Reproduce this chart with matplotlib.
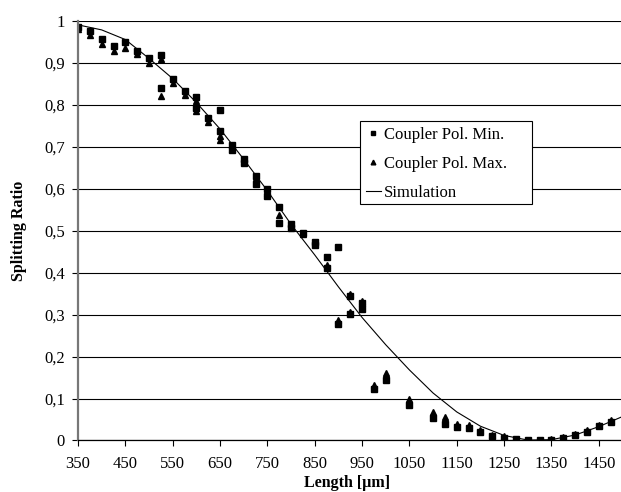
#Splitting ratio of the couplers vs. length
#measured points for both polarisations + simulated curve

import matplotlib.pyplot as plt
from matplotlib.patches import Rectangle

plt.rcParams['font.family'] = ['Liberation Serif', 'DejaVu Serif']

#measured data, Pol. Min. (squares) - some lengths were measured twice
len_min = [350, 375, 400, 425, 450, 475, 500, 525, 525, 550, 575, 600, 600, 625,
           650, 650, 675, 675, 700, 700, 725, 725, 750, 750, 775, 775, 800, 800,
           825, 850, 850, 875, 875, 900, 900, 925, 925, 950, 950, 975, 1000, 1050,
           1100, 1125, 1150, 1175, 1200, 1225, 1250, 1275, 1300, 1325, 1350, 1375,
           1400, 1425, 1450, 1475]
ratio_min = [0.985, 0.975, 0.957, 0.94, 0.949, 0.928, 0.912, 0.918, 0.84, 0.862, 0.833,
             0.818, 0.792, 0.768, 0.787, 0.736, 0.703, 0.692, 0.67, 0.662, 0.63, 0.612,
             0.598, 0.582, 0.557, 0.518, 0.516, 0.506, 0.494, 0.472, 0.466, 0.438, 0.41,
             0.462, 0.277, 0.343, 0.302, 0.328, 0.313, 0.122, 0.145, 0.085, 0.053, 0.04,
             0.032, 0.03, 0.02, 0.01, 0.006, 0.003, 0.001, 0.001, 0.002, 0.006, 0.012,
             0.021, 0.034, 0.045]

#measured data, Pol. Max. (triangles)
len_max = [350, 375, 400, 425, 450, 475, 500, 525, 525, 550, 575, 600, 600, 625,
           650, 650, 675, 700, 725, 750, 775, 800, 825, 850, 875, 900, 925, 925,
           950, 975, 1000, 1050, 1100, 1125, 1150, 1175, 1200, 1225, 1250, 1275,
           1300, 1325, 1350, 1375, 1400, 1425, 1450, 1475]
ratio_max = [0.98, 0.965, 0.945, 0.928, 0.935, 0.92, 0.9, 0.908, 0.82, 0.852, 0.823,
             0.808, 0.785, 0.758, 0.725, 0.715, 0.695, 0.665, 0.625, 0.59, 0.537, 0.51,
             0.492, 0.47, 0.418, 0.287, 0.35, 0.305, 0.333, 0.132, 0.16, 0.1, 0.068,
             0.055, 0.04, 0.037, 0.025, 0.014, 0.011, 0.004, 0.002, 0.002, 0.004, 0.008,
             0.015, 0.024, 0.037, 0.049]

#simulation (every 50 um)
len_sim = [350, 400, 450, 500, 550, 600, 650, 700, 750, 800, 850, 900, 950, 1000,
           1050, 1100, 1150, 1200, 1250, 1300, 1350, 1400, 1450, 1500]
ratio_sim = [0.99, 0.978, 0.955, 0.91, 0.862, 0.805, 0.742, 0.67, 0.595, 0.515, 0.442,
             0.366, 0.293, 0.228, 0.168, 0.113, 0.068, 0.034, 0.012, 0.001, 0.002,
             0.013, 0.033, 0.057]

x_ticks = [350, 450, 550, 650, 750, 850, 950, 1050, 1150, 1250, 1350, 1450]
y_ticks = [0, 0.1, 0.2, 0.3, 0.4, 0.5, 0.6, 0.7, 0.8, 0.9, 1]
y_ticklabels = ['0', '0,1', '0,2', '0,3', '0,4', '0,5', '0,6', '0,7', '0,8', '0,9', '1']

fig = plt.figure(figsize=(6.21, 4.92), dpi=100)
ax = fig.add_axes([0.1256, 0.1047, 0.8768, 0.8533], xlim=[350, 1500], ylim=[0, 1])

ax.plot(len_min, ratio_min, 's', color='black', markersize=3.8, label='Coupler Pol. Min.')
ax.plot(len_max, ratio_max, '^', color='black', markersize=4.2, label='Coupler Pol. Max.')
ax.plot(len_sim, ratio_sim, '-', color='black', linewidth=0.8, label='Simulation')

#horizontal grid lines like the excel original
ax.set_axisbelow(True)
ax.yaxis.grid(True, color='black', linewidth=0.8)

ax.set_xticks(x_ticks)
ax.set_yticks(y_ticks)
ax.set_yticklabels(y_ticklabels)
ax.tick_params(axis='x', direction='out', length=4, width=0.8, pad=7, labelsize=12)
ax.tick_params(axis='y', direction='out', length=4.5, width=0.8, pad=5, labelsize=12)

ax.spines['top'].set_visible(False)
ax.spines['right'].set_visible(False)
ax.spines['left'].set_color('#777777')
ax.spines['left'].set_linewidth(1.6)
ax.spines['bottom'].set_linewidth(0.9)

ax.set_xlabel('Length [µm]', fontsize=11.5, fontweight='bold')
ax.set_ylabel('Splitting Ratio', fontsize=11.5, fontweight='bold')
ax.xaxis.set_label_coords(0.4935, -0.082)
ax.yaxis.set_label_coords(-0.094, 0.5)

#legend box drawn by hand (excel style, extra room on the right)
box = Rectangle((0.518, 0.564), 0.316, 0.196, transform=ax.transAxes,
                facecolor='white', edgecolor='black', linewidth=0.8, zorder=5)
ax.add_patch(box)
leg = ax.legend(loc='upper left', bbox_to_anchor=(0.518, 0.76), borderaxespad=0,
                borderpad=0.33, handlelength=0.9, handletextpad=0.2, labelspacing=0.79,
                frameon=False, fontsize=12, markerscale=0.8)
leg.set_zorder(6)

plt.savefig('out.png', dpi=100)
plt.close()
